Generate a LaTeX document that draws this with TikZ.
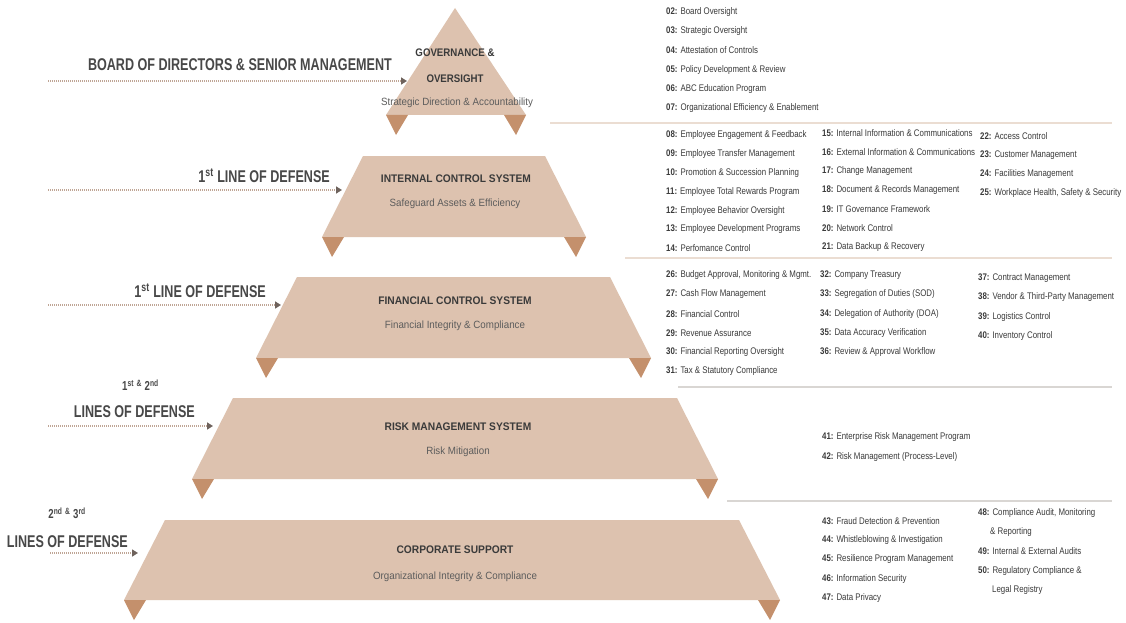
\documentclass[tikz,border=0pt]{standalone}
\usepackage{fontspec}
\setmainfont{Liberation Sans}
\newfontfamily\nar[FakeStretch=0.82]{Liberation Sans}
\newfontfamily\tfam[FakeStretch=0.88]{Liberation Sans}
\newfontfamily\tfamw[FakeStretch=0.93]{Liberation Sans}
\newfontfamily\hdr[FakeStretch=0.74]{Liberation Sans}
\usetikzlibrary{arrows.meta}
\definecolor{trap}{HTML}{DDC2AF}
\definecolor{tabc}{HTML}{C4906C}
\definecolor{txt}{HTML}{3A3A3A}
\definecolor{subc}{HTML}{5C5C5C}
\definecolor{lblc}{HTML}{484848}
\definecolor{dotc}{HTML}{BFA595}
\definecolor{headc}{HTML}{6E625C}
\definecolor{sepa}{HTML}{EBDDD2}
\definecolor{sepb}{HTML}{D9D6D3}
\newcommand\LI[2]{{\bfseries #1:} #2}
\tikzset{
  item/.style={anchor=west, inner sep=0pt, font=\nar\fontsize{9.6}{11}\selectfont, text=txt},
  ttl/.style={inner sep=0pt, font=\tfamw\bfseries\fontsize{11}{13}\selectfont, text=txt},
  gttl/.style={inner sep=0pt, font=\tfam\bfseries\fontsize{11}{13}\selectfont, text=txt},
  subt/.style={inner sep=0pt, font=\tfamw\fontsize{10.5}{12}\selectfont, text=subc},
  lbl/.style={anchor=east, inner sep=0pt, font=\hdr\bfseries\fontsize{17}{20}\selectfont, text=lblc},
  slbl/.style={anchor=east, inner sep=0pt, font=\hdr\bfseries\fontsize{13}{15}\selectfont, text=lblc},
  arr/.style={draw=dotc, line width=1.6pt, dash pattern=on 0.8pt off 1.2pt, -{Triangle[length=6pt,width=7pt,color=headc]}},
  body/.style={fill=trap},
  tabbox/.style={fill=tabc},
  sepline/.style={line width=1.5pt},
}
\begin{document}
\begin{tikzpicture}[x=1pt,y=-1pt]
\useasboundingbox (0,0) rectangle (1126,623);
\fill[white] (0,0) rectangle (1126,623);

% separators
\draw[sepline, sepa] (550,123) -- (1112,123);
\draw[sepline, sepa] (625,258) -- (1112,258);
\draw[sepline, sepb] (678,387) -- (1112,387);
\draw[sepline, sepb] (727,501) -- (1112,501);

% governance triangle
\fill[body] (455,8) -- (526,115) -- (386,115) -- cycle;
\fill[tabbox] (386,115) -- (408,115) -- (396,135) -- cycle;
\fill[tabbox] (504,115) -- (526,115) -- (516,135) -- cycle;
% internal control
\fill[body] (363,156) -- (545,156) -- (586,237) -- (322,237) -- cycle;
\fill[tabbox] (322,237) -- (344,237) -- (332,257) -- cycle;
\fill[tabbox] (564,237) -- (586,237) -- (576,257) -- cycle;
% financial control
\fill[body] (297,277) -- (610,277) -- (651,358) -- (256,358) -- cycle;
\fill[tabbox] (256,358) -- (278,358) -- (266,378) -- cycle;
\fill[tabbox] (629,358) -- (651,358) -- (641,378) -- cycle;
% risk management
\fill[body] (233,398) -- (677,398) -- (718,479) -- (192,479) -- cycle;
\fill[tabbox] (192,479) -- (214,479) -- (202,499) -- cycle;
\fill[tabbox] (696,479) -- (718,479) -- (708,499) -- cycle;
% corporate support
\fill[body] (165,520) -- (739,520) -- (780,600) -- (124,600) -- cycle;
\fill[tabbox] (124,600) -- (146,600) -- (134,620) -- cycle;
\fill[tabbox] (758,600) -- (780,600) -- (770,620) -- cycle;

% shape texts
\node[gttl] (t0a) at (455,53) {GOVERNANCE \&};
\node[gttl] (t0b) at (455,79) {OVERSIGHT};
\node[subt] (s0) at (457,103) {Strategic Direction \& Accountability};
\node[ttl] (t1) at (456,179) {INTERNAL CONTROL SYSTEM};
\node[subt] (s1) at (455,204) {Safeguard Assets \& Efficiency};
\node[ttl] (t2) at (455,301) {FINANCIAL CONTROL SYSTEM};
\node[subt] (s2) at (455,326) {Financial Integrity \& Compliance};
\node[ttl] (t3) at (458,427) {RISK MANAGEMENT SYSTEM};
\node[subt] (s3) at (458,452) {Risk Mitigation};
\node[ttl] (t4) at (455,550) {CORPORATE SUPPORT};
\node[subt] (s4) at (455,577) {Organizational Integrity \& Compliance};

% left labels
\node[lbl] (L0) at (392,65) {BOARD OF DIRECTORS \& SENIOR MANAGEMENT};
\node[lbl] (L1) at (330,176) {1\textsuperscript{st} LINE OF DEFENSE};
\node[lbl] (L2) at (266,291) {1\textsuperscript{st} LINE OF DEFENSE};
\node[slbl] (L3a) at (159,385) {1\textsuperscript{st} \textsuperscript{\&} 2\textsuperscript{nd}};
\node[lbl] (L3) at (195,412) {LINES OF DEFENSE};
\node[slbl] (L4a) at (86,513) {2\textsuperscript{nd} \textsuperscript{\&} 3\textsuperscript{rd}};
\node[lbl] (L4) at (128,542) {LINES OF DEFENSE};

% arrows
\coordinate (a0s) at (48,81);  \coordinate (a0e) at (407,81);
\coordinate (a1s) at (48,190); \coordinate (a1e) at (342,190);
\coordinate (a2s) at (48,305); \coordinate (a2e) at (281,305);
\coordinate (a3s) at (48,426); \coordinate (a3e) at (213,426);
\coordinate (a4s) at (50,553); \coordinate (a4e) at (138,553);
\draw[arr] (a0s) -- (a0e);
\draw[arr] (a1s) -- (a1e);
\draw[arr] (a2s) -- (a2e);
\draw[arr] (a3s) -- (a3e);
\draw[arr] (a4s) -- (a4e);

% governance list
\foreach \n/\t [count=\i from 0] in {02/Board Oversight, 03/Strategic Oversight, 04/Attestation of Controls, 05/Policy Development \& Review, 06/ABC Education Program, 07/Organizational Efficiency \& Enablement}
  \node[item, name=g\i] at (666,12+19.2*\i) {\LI{\n}{\t}};

% internal control lists
\foreach \n/\t [count=\i from 0] in {08/Employee Engagement \& Feedback, 09/Employee Transfer Management, 10/Promotion \& Succession Planning, 11/Employee Total Rewards Program, 12/Employee Behavior Oversight, 13/Employee Development Programs, 14/Perfomance Control}
  \node[item, name=ia\i] at (666,135+18.9*\i) {\LI{\n}{\t}};
\foreach \n/\t [count=\i from 0] in {15/Internal Information \& Communications, 16/External Information \& Communications, 17/Change Management, 18/Document \& Records Management, 19/IT Governance Framework, 20/Network Control, 21/Data Backup \& Recovery}
  \node[item, name=ib\i] at (822,133+19*\i) {\LI{\n}{\t}};
\foreach \n/\t [count=\i from 0] in {22/Access Control, 23/Customer Management, 24/Facilities Management, 25/{Workplace Health, Safety \& Security}}
  \node[item, name=ic\i] at (980,136+19*\i) {\LI{\n}{\t}};

% financial lists
\foreach \n/\t [count=\i from 0] in {26/{Budget Approval, Monitoring \& Mgmt.}, 27/Cash Flow Management, 28/Financial Control, 29/Revenue Assurance, 30/Financial Reporting Oversight, 31/Tax \& Statutory Compliance}
  \node[item, name=fa\i] at (666,275+19.3*\i) {\LI{\n}{\t}};
\foreach \n/\t [count=\i from 0] in {32/Company Treasury, 33/Segregation of Duties (SOD), 34/Delegation of Authority (DOA), 35/Data Accuracy Verification, 36/Review \& Approval Workflow}
  \node[item, name=fb\i] at (820,275+19.3*\i) {\LI{\n}{\t}};
\foreach \n/\t [count=\i from 0] in {37/Contract Management, 38/Vendor \& Third-Party Management, 39/Logistics Control, 40/Inventory Control}
  \node[item, name=fc\i] at (978,278+19.3*\i) {\LI{\n}{\t}};

% risk list
\node[item] (r0) at (822,437) {\LI{41}{Enterprise Risk Management Program}};
\node[item] (r1) at (822,457) {\LI{42}{Risk Management (Process-Level)}};

% corporate lists
\foreach \n/\t [count=\i from 0] in {43/Fraud Detection \& Prevention, 44/Whistleblowing \& Investigation, 45/Resilience Program Management, 46/Information Security, 47/Data Privacy}
  \node[item, name=ca\i] at (822,521+19.2*\i) {\LI{\n}{\t}};
\node[item] (cb0) at (978,513) {\LI{48}{Compliance Audit, Monitoring}};
\node[item] (cb0b) at (990,532) {\& Reporting};
\node[item] (cb1) at (978,551) {\LI{49}{Internal \& External Audits}};
\node[item] (cb2) at (978,571) {\LI{50}{Regulatory Compliance \&}};
\node[item] (cb2b) at (992,590) {Legal Registry};
\end{tikzpicture}
\end{document}
